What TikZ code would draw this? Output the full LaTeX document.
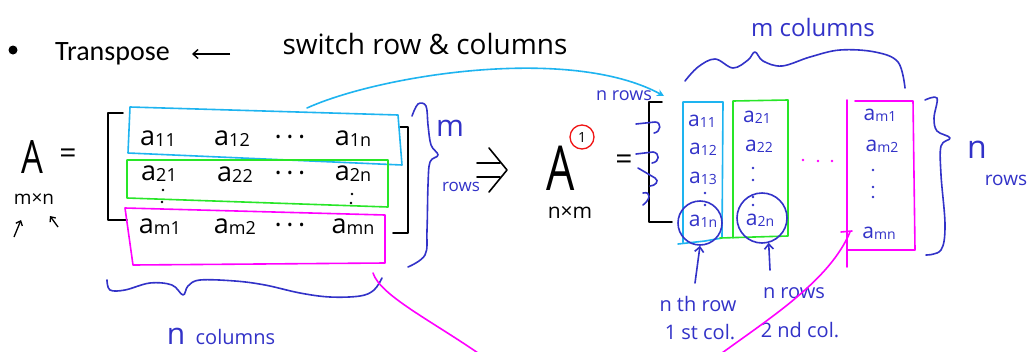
\documentclass[tikz,border=0pt]{standalone}
\usepackage{fontspec}
\setmainfont{Carlito}
\newfontfamily\hand{Open Sans}
\usetikzlibrary{arrows.meta}
\definecolor{pen}{RGB}{50,50,200}
\definecolor{cy}{RGB}{30,180,240}
\definecolor{gr}{RGB}{40,230,40}
\definecolor{mg}{RGB}{255,0,255}
\definecolor{rd}{RGB}{240,20,20}
\newcommand\el[1]{a\raisebox{-1pt}{\fontsize{18}{18}\selectfont #1}}
\newcommand\er[1]{a\raisebox{-1pt}{\fontsize{14}{14}\selectfont #1}}
\begin{document}
\begin{tikzpicture}[x=1pt,y=-1pt,
  hw/.style={line width=1.6pt, line cap=round, line join=round},
  txt/.style={inner sep=0pt, font=\hand\fontsize{#1}{#1}\selectfont},
  ent/.style={inner sep=0pt, font=\hand\fontsize{27}{27}\selectfont},
  entr/.style={inner sep=0pt, text=pen, font=\hand\fontsize{21}{21}\selectfont},
  barb/.style={-{Straight Barb[length=5pt,width=9pt]}},
  dotm/.style={circle, fill, inner sep=0pt, minimum size=2.6pt}]
\useasboundingbox (0,0) rectangle (1032,351);
\fill[white] (0,0) rectangle (1032,351);

% title
\node[circle, fill, inner sep=0pt, minimum size=9pt] (bullet) at (13,50) {};
\node[anchor=base west, inner sep=0pt, font=\fontsize{28}{30}\selectfont] (tr) at (55,60) {Transpose};
\coordinate (arrS) at (230,54);
\coordinate (arrE) at (192,54);
\draw[line width=1.4pt, barb] (arrS) -- (arrE);
\node[txt=28] (sw) at (425,44) {switch row \& columns};

% left A
\node[txt=46] (A) at (32,157) {\scalebox{0.75}[1]{A}};
\node[txt=30] (eq1) at (68,156) {=};
\node[txt=19] (mn) at (34,199) {m×n};
\coordinate (u1) at (14,237); \coordinate (u1e) at (21,220);
\coordinate (u2) at (58,227); \coordinate (u2e) at (50,216);
\draw[line width=1.3pt, -{Straight Barb[length=4pt,width=7pt]}] (u1) -- (u1e);
\draw[line width=1.3pt, -{Straight Barb[length=4pt,width=7pt]}] (u2) -- (u2e);

% left matrix brackets
\draw[hw] (123,113) -- (108,113) -- (108,220) -- (127,220);
\draw[hw] (400,127) -- (408,127) -- (408,233) -- (393,233);

% row boxes
\draw[hw, cy] (130,107) -- (398,115) -- (402,165) -- (128,153) -- cycle;
\draw[hw, gr] (127,160) -- (388,160) -- (388,207) -- (127,198) -- cycle;
\draw[hw, mg] (125,208) -- (385,215) -- (385,263) -- (133,265) -- cycle;

% entries
\node[ent] (a11) at (158,139) {\el{11}};
\node[ent] (a12) at (232,139) {\el{12}};
\node[ent] (d1) at (290,141) {·\,·\,·};
\node[ent] (a1n) at (353,139) {\el{1n}};
\node[ent] (a21) at (159,174) {\el{21}};
\node[ent] (a22) at (235,175) {\el{22}};
\node[ent] (d2) at (290,177) {·\,·\,·};
\node[ent] (a2n) at (353,174) {\el{2n}};
\node[ent] (am1) at (160,227) {\el{m1}};
\node[ent] (am2) at (235,227) {\el{m2}};
\node[ent] (d3) at (290,229) {·\,·\,·};
\node[ent] (amn) at (353,227) {\el{mn}};
\node[dotm] (v1) at (163,190) {};
\node[dotm] (v2) at (162,202) {};
\node[dotm] (v3) at (352,194) {};
\node[dotm] (v4) at (351,203) {};

% brace m rows
\draw[hw, pen] plot[smooth, tension=0.6] coordinates {(412,116) (418,104) (426,106) (428,125) (431,145) (438,155) (430,162) (428,185) (427,230) (425,255) (408,267)};
\node[txt=30, text=pen] (mlab) at (450,128) {m};
\node[txt=17, text=pen] (rowsL) at (461,187) {rows};

% bottom brace n columns
\draw[hw, pen] plot[smooth, tension=0.6] coordinates {(107,280) (110,290) (125,290) (150,283) (172,285) (183,295) (188,286) (200,280) (235,281) (265,285) (300,293) (330,297) (360,296) (374,290) (382,278)};
\node[txt=20, text=pen] (ncol) at (221,336) {{\fontsize{30}{30}\selectfont n} \ columns};

% implies
\draw[hw] (477,163) -- (500,163);
\draw[hw] (477,177) -- (500,177);
\draw[hw] (489,148) -- (507,170) -- (489,192);

% right A
\node[txt=62] (At) at (561,168) {\scalebox{0.72}[1]{A}};
\node[circle, draw=rd, line width=1.3pt, minimum size=24pt, inner sep=0pt, font=\hand\fontsize{14}{14}\selectfont] (one) at (582,137) {1};
\node[txt=21] (nm) at (570,212) {n×m};
\node[txt=30] (eq2) at (624,162) {=};

% right bracket
\draw[hw] (662,102) -- (649,102) -- (649,222) -- (672,222);
\draw[hw, pen] (636,124) -- (655,122) .. controls (662,122) and (661,132) .. (654,133);
\draw[hw, pen] (636,154) -- (653,152) .. controls (660,153) and (660,162) .. (652,163);
\draw[hw, pen] (638,168) -- (655,178) .. controls (660,181) and (655,186) .. (650,186);
\draw[hw, pen] (643,193) .. controls (652,191) and (650,200) .. (643,205);
\node[txt=18, text=pen] (nrows) at (624,96) {n rows};

% columns
\draw[hw, cy] (683,242) -- (683,102) -- (723,102) -- (722,238) -- (705,241) -- (678,244);
\draw[hw, gr] (733,238) -- (733,101) -- (788,100) -- (788,236) -- (720,238);
\draw[hw, mg] (847,100) -- (847,267);
\draw[hw, mg] (855,101) -- (913,101) -- (915,250) -- (847,250);

\node[entr] (b11) at (702,121) {\er{11}};
\node[entr] (b12) at (703,149) {\er{12}};
\node[entr] (b13) at (703,178) {\er{13}};
\node[dotm, pen] (w1) at (705,193) {};
\node[dotm, pen] (w2) at (705,205) {};
\node[entr] (b1n) at (703,221) {\er{1n}};
\node[entr] (b21) at (757,117) {\er{21}};
\node[entr] (b22) at (759,146) {\er{22}};
\node[dotm, pen] (w3) at (753,168) {};
\node[dotm, pen] (w4) at (753,180) {};
\node[dotm, pen] (w5) at (753,197) {};
\node[dotm, pen] (w6) at (753,205) {};
\node[entr] (b2n) at (760,220) {\er{2n}};
\node[entr] (bm1) at (880,115) {\er{m1}};
\node[entr] (bm2) at (882,146) {\er{m2}};
\node[dotm, pen] (w7) at (873,170) {};
\node[dotm, pen] (w8) at (873,187) {};
\node[dotm, pen] (w9) at (873,197) {};
\node[entr] (bmn) at (879,233) {\er{mn}};
\node[dotm, mg] (p1) at (803,160) {};
\node[dotm, mg] (p2) at (818,161) {};
\node[dotm, mg] (p3) at (832,161) {};

% circles
\node[circle, draw=pen, hw, minimum size=44pt, inner sep=0pt] (c1) at (700,223) {};
\node[circle, draw=pen, hw, minimum size=50pt, inner sep=0pt] (c2) at (762,218) {};
\coordinate (q1) at (695,283);
\coordinate (q2) at (770,270);
\draw[hw, pen, barb] (q1) -- (c1.south);
\draw[hw, pen, barb] (q2) -- (c2.-75);
\node[txt=20, text=pen] (l1) at (698,304) {n th row};
\node[txt=20, text=pen] (l2) at (700,332) {1 st col.};
\node[txt=20, text=pen] (l3) at (794,293) {n rows};
\node[txt=20, text=pen] (l4) at (800,330) {2 nd col.};

% top brace m columns
\draw[hw, pen] plot[smooth, tension=0.6] coordinates {(685,81) (698,67) (715,59) (733,68) (748,60) (755,52) (763,61) (782,66) (810,57) (840,50) (875,52) (898,62) (905,88)};
\node[txt=24, text=pen] (mcol) at (813,27) {m columns};

% right brace n rows
\draw[hw, pen] plot[smooth, tension=0.6] coordinates {(925,100) (937,98) (934,118) (937,131) (950,138) (941,146) (941,175) (945,225) (941,250) (926,255)};
\node[txt=32, text=pen] (nR) at (977,150) {n};
\node[txt=19, text=pen] (rowsR) at (1006,180) {rows};

% connectors
\coordinate (cyS) at (307,108);
\coordinate (cyE) at (664,96);
\draw[hw, cy, -{Stealth[length=7pt,width=7pt]}] (cyS) .. controls (380,75) and (570,45) .. (cyE);
\coordinate (mgS) at (373,273);
\coordinate (mgE) at (478,353);
\draw[hw, mg] (mgS) .. controls (380,295) and (430,320) .. (mgE);
\coordinate (mg2S) at (722,353);
\coordinate (mg2E) at (850,232);
\draw[hw, mg] (mg2S) .. controls (770,318) and (830,280) .. (mg2E);
\draw[hw, mg] (841,232) -- (852,231);
\end{tikzpicture}
\end{document}
